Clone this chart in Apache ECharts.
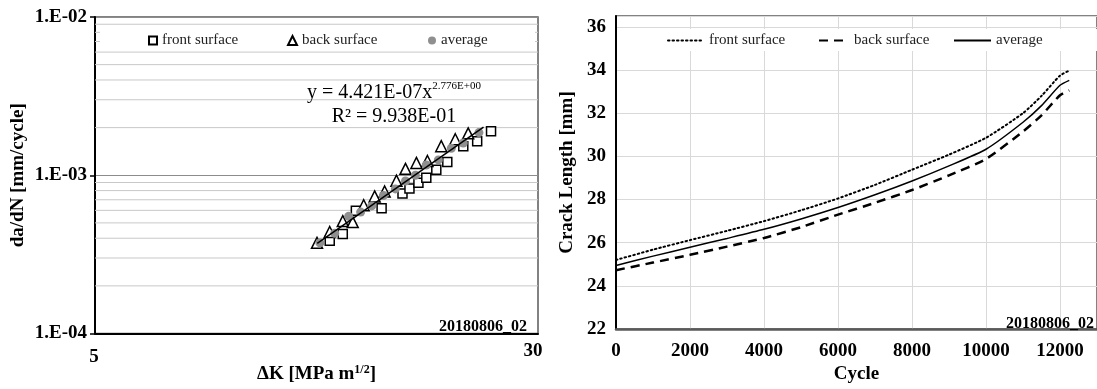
<!DOCTYPE html>
<html>
<head>
<meta charset="utf-8">
<script src="https://cdn.jsdelivr.net/npm/echarts@6/dist/echarts.min.js"></script>
<style>
  html, body { margin: 0; padding: 0; background: #fff; }
  #chart { width: 1097px; height: 389px; }
</style>
</head>
<body>
<div id="chart"></div>
<script>
// ---------- Crack growth rate vs stress intensity range (log-log) ----------
const frontDK   = [11.83, 12.41, 13.02, 14.31, 15.45, 15.85, 16.38, 16.86, 17.49, 18.21, 19.31, 20.32, 21.38];
const frontRate = [3.85e-4, 4.26e-4, 5.96e-4, 6.18e-4, 7.67e-4, 8.24e-4, 8.98e-4, 9.65e-4, 1.082e-3, 1.214e-3, 1.527e-3, 1.641e-3, 1.894e-3];

const backDK    = [11.29, 11.83, 12.41, 12.87, 13.40, 13.95, 14.47, 15.11, 15.62, 16.26, 16.93, 17.81, 18.75, 19.66];
const backRate  = [3.74e-4, 4.38e-4, 5.13e-4, 5.06e-4, 6.46e-4, 7.35e-4, 7.89e-4, 9.24e-4, 1.098e-3, 1.196e-3, 1.231e-3, 1.527e-3, 1.689e-3, 1.84e-3];

const avgDK     = [11.41, 12.05, 12.68, 13.25, 13.80, 14.41, 15.05, 15.62, 16.20, 16.86, 17.62, 18.48, 19.31, 20.45];
const avgRate   = [3.74e-4, 4.3e-4, 5.5e-4, 5.85e-4, 6.4e-4, 7.45e-4, 8.2e-4, 9.2e-4, 1.0e-3, 1.16e-3, 1.25e-3, 1.48e-3, 1.6e-3, 1.86e-3];

// power-law fit of the average data: rate = C * dK^m
const fitCoef  = 4.421e-7;
const fitExp   = 2.776;
const fitR2    = 0.9938;
const fitRange = [11.3, 20.8];

const dkLimits   = [5, 25.4];
const rateLimits = [1e-4, 1e-2];
const dkTickLabels = ['5', '30'];
const minorRates = [2e-4, 3e-4, 4e-4, 5e-4, 6e-4, 7e-4, 8e-4, 9e-4,
                    2e-3, 3e-3, 4e-3, 5e-3, 6e-3, 7e-3, 8e-3, 9e-3];

// ---------- Crack length vs cycle ----------
const cycles   = [0, 1000, 2000, 3000, 4000, 5000, 6000, 7000, 8000, 9000, 10000, 11000, 11500, 12000, 12250];
const frontLen = [25.20, 25.68, 26.12, 26.55, 27.00, 27.50, 28.05, 28.68, 29.38, 30.08, 30.86, 32.00, 32.80, 33.74, 33.97];
const backLen  = [24.73, 25.08, 25.44, 25.82, 26.22, 26.72, 27.30, 27.85, 28.44, 29.12, 29.88, 31.15, 31.90, 32.83, 33.06];
const avgLen   = [24.95, 25.38, 25.79, 26.20, 26.62, 27.10, 27.63, 28.22, 28.86, 29.56, 30.33, 31.58, 32.35, 33.29, 33.52];

const specimenId = '20180806_02';

const SERIF = '"Liberation Serif", "Times New Roman", serif';

function zip(xs, ys) { return xs.map((x, i) => [x, ys[i]]); }

// Excel-style scientific notation, e.g. 4.421E-07
function sci(v, digits) {
  const e = Math.floor(Math.log10(Math.abs(v)));
  const m = v / Math.pow(10, e);
  const sign = e < 0 ? '-' : '+';
  return m.toFixed(digits) + 'E' + sign + String(Math.abs(e)).padStart(2, '0');
}

const fitLine = fitRange.map(x => [x, fitCoef * Math.pow(x, fitExp)]);

// minor gridlines (2..9 per decade), one flat line across the full ΔK range each
const minorGridSeries = minorRates.map(v => ({
  type: 'line', xAxisIndex: 0, yAxisIndex: 0, z: 1, silent: true,
  symbol: 'none', lineStyle: { color: '#c8c8c8', width: 1 },
  emphasis: { disabled: true },
  data: [[dkLimits[0], v], [dkLimits[1], v]]
}));

const chart = echarts.init(document.getElementById('chart'), null, { renderer: 'canvas' });

const boldLabel = { fontFamily: SERIF, fontWeight: 'bold', fontSize: 19, color: '#000' };
const legendText = { fontFamily: SERIF, fontSize: 15, color: '#222' };
const lineLegend = { padding: 0, textStyle: legendText, selectedMode: false, z: 6, itemStyle: { opacity: 0 } };
const markLegend = { padding: 0, textStyle: legendText, selectedMode: false, z: 6 };

chart.setOption({
  animation: false,
  backgroundColor: '#fff',
  grid: [
    { left: 95, top: 17, width: 443, height: 321, show: true, borderColor: '#5a5a5a', borderWidth: 1.5, backgroundColor: 'transparent' },
    { left: 616, top: 16, width: 484, height: 319, show: true, borderColor: '#5a5a5a', borderWidth: 1.5, backgroundColor: 'transparent' }
  ],
  xAxis: [
    {
      gridIndex: 0, type: 'log', logBase: 10, min: dkLimits[0], max: dkLimits[1],
      axisLine: { show: true, lineStyle: { color: '#000', width: 2 } },
      axisTick: { show: false }, axisLabel: { show: false }, splitLine: { show: false },
      name: '{a|ΔK [MPa m}{s|1/2}{a|]}', nameLocation: 'middle', nameGap: 30,
      nameTextStyle: {
        rich: {
          a: { fontFamily: SERIF, fontWeight: 'bold', fontSize: 19, color: '#000', lineHeight: 22 },
          s: { fontFamily: SERIF, fontWeight: 'bold', fontSize: 12, color: '#000', lineHeight: 22, verticalAlign: 'top' }
        }
      }
    },
    {
      gridIndex: 1, type: 'value', min: 0, max: 13000, interval: 2000,
      axisLine: { show: true, lineStyle: { color: '#5a5a5a', width: 2.5 } },
      axisTick: { show: false },
      axisLabel: Object.assign({ margin: 12, showMaxLabel: false, formatter: v => String(v) }, boldLabel),
      splitLine: { show: true, lineStyle: { color: '#d9d9d9', width: 1 } },
      name: 'Cycle', nameLocation: 'middle', nameGap: 33, nameTextStyle: boldLabel
    }
  ],
  yAxis: [
    {
      gridIndex: 0, type: 'log', logBase: 10, min: rateLimits[0], max: rateLimits[1],
      axisLine: { show: true, lineStyle: { color: '#000', width: 2 } },
      axisTick: { show: true, length: 5, lineStyle: { color: '#000', width: 1.5 } },
      axisLabel: Object.assign({
        margin: 8,
        formatter: v => '1.E-' + String(Math.round(-Math.log10(v))).padStart(2, '0')
      }, boldLabel),
      splitLine: { show: true, lineStyle: { color: '#8c8c8c', width: 1 } },
      name: 'da/dN [mm/cycle]', nameLocation: 'middle', nameGap: 67, nameRotate: 90,
      nameTextStyle: boldLabel
    },
    {
      gridIndex: 1, type: 'value', min: 22, max: 36.5, interval: 2,
      axisLine: { show: true, lineStyle: { color: '#000', width: 2 } },
      axisTick: { show: false },
      axisLabel: Object.assign({ margin: 10, showMaxLabel: false }, boldLabel),
      splitLine: { show: true, lineStyle: { color: '#d9d9d9', width: 1 } },
      name: 'Crack Length [mm]', nameLocation: 'middle', nameGap: 39, nameRotate: 90,
      nameTextStyle: boldLabel
    }
  ],
  legend: [
    Object.assign({ data: ['front surface'], left: 148, top: 33, itemWidth: 8, itemHeight: 8 }, markLegend),
    Object.assign({ data: ['back surface'],  left: 287, top: 33, itemWidth: 9, itemHeight: 9 }, markLegend),
    Object.assign({ data: ['average'],       left: 428, top: 33, itemWidth: 8, itemHeight: 8 }, markLegend),
    Object.assign({ data: ['front surface '], left: 667, top: 33, itemWidth: 36, itemHeight: 14 }, lineLegend),
    Object.assign({ data: ['back surface '],  left: 818, top: 33, itemWidth: 30, itemHeight: 14 }, lineLegend),
    Object.assign({ data: ['average '],       left: 953, top: 33, itemWidth: 37, itemHeight: 14 }, lineLegend)
  ],
  graphic: [
    // legend backdrops hide the gridlines behind the legend rows
    { type: 'rect', z: 3, silent: true, shape: { x: 100, y: 27, width: 435, height: 22 }, style: { fill: '#fff' } },
    { type: 'rect', z: 3, silent: true, shape: { x: 618, y: 29, width: 479, height: 22 }, style: { fill: '#fff' } },
    // ΔK axis end labels
    { type: 'text', z: 6, silent: true, style: { x: 94, y: 357, align: 'center', verticalAlign: 'middle', text: dkTickLabels[0], font: 'bold 19px ' + SERIF, fill: '#000' } },
    { type: 'text', z: 6, silent: true, style: { x: 533, y: 351, align: 'center', verticalAlign: 'middle', text: dkTickLabels[1], font: 'bold 19px ' + SERIF, fill: '#000' } },
    // fit equation
    {
      type: 'text', z: 6, silent: true,
      style: {
        x: 394, y: 81, align: 'center', verticalAlign: 'top',
        text: '{a|y = ' + sci(fitCoef, 3) + 'x}{s|' + sci(fitExp, 3) + '}\n{a|R² = ' + sci(fitR2, 3) + '}',
        rich: {
          a: { fontFamily: SERIF, fontSize: 20, fill: '#000', lineHeight: 24 },
          s: { fontFamily: SERIF, fontSize: 11, fill: '#000', lineHeight: 24, verticalAlign: 'top' }
        }
      }
    },
    { type: 'text', z: 6, silent: true, style: { x: 527, y: 327, align: 'right', verticalAlign: 'middle', text: specimenId, font: 'bold 16px ' + SERIF, fill: '#000' } },
    { type: 'text', z: 6, silent: true, style: { x: 1094, y: 324, align: 'right', verticalAlign: 'middle', text: specimenId, font: 'bold 16px ' + SERIF, fill: '#000' } }
  ],
  series: minorGridSeries.concat([
    {
      name: 'front surface', type: 'scatter', xAxisIndex: 0, yAxisIndex: 0, z: 3,
      symbol: 'rect', symbolSize: 9,
      itemStyle: { color: '#fff', borderColor: '#000', borderWidth: 1.5, opacity: 1 },
      data: zip(frontDK, frontRate)
    },
    {
      name: 'back surface', type: 'scatter', xAxisIndex: 0, yAxisIndex: 0, z: 3,
      symbol: 'triangle', symbolSize: 11,
      itemStyle: { color: '#fff', borderColor: '#000', borderWidth: 1.5, opacity: 1 },
      data: zip(backDK, backRate)
    },
    {
      name: 'average', type: 'scatter', xAxisIndex: 0, yAxisIndex: 0, z: 4,
      symbol: 'circle', symbolSize: 9,
      itemStyle: { color: '#8f8f8f', opacity: 1 },
      data: zip(avgDK, avgRate)
    },
    {
      type: 'line', xAxisIndex: 0, yAxisIndex: 0, z: 5, silent: true,
      symbol: 'none', lineStyle: { color: '#000', width: 1.5 },
      data: fitLine
    },
    // crack length curves
    {
      name: 'front surface ', type: 'line', xAxisIndex: 1, yAxisIndex: 1, z: 4,
      symbol: 'none', smooth: 0.2,
      lineStyle: { color: '#000', width: 2, type: [1.5, 3], cap: 'round' },
      itemStyle: { color: '#000' },
      data: zip(cycles, frontLen)
    },
    {
      name: 'back surface ', type: 'line', xAxisIndex: 1, yAxisIndex: 1, z: 4,
      symbol: 'none', smooth: 0.2,
      lineStyle: { color: '#000', width: 2.5, type: [9, 6] },
      itemStyle: { color: '#000' },
      data: zip(cycles, backLen)
    },
    {
      name: 'average ', type: 'line', xAxisIndex: 1, yAxisIndex: 1, z: 4,
      symbol: 'none', smooth: 0.2,
      lineStyle: { color: '#000', width: 1.5, type: 'solid' },
      itemStyle: { color: '#000' },
      data: zip(cycles, avgLen)
    }
  ])
});
</script>
</body>
</html>
